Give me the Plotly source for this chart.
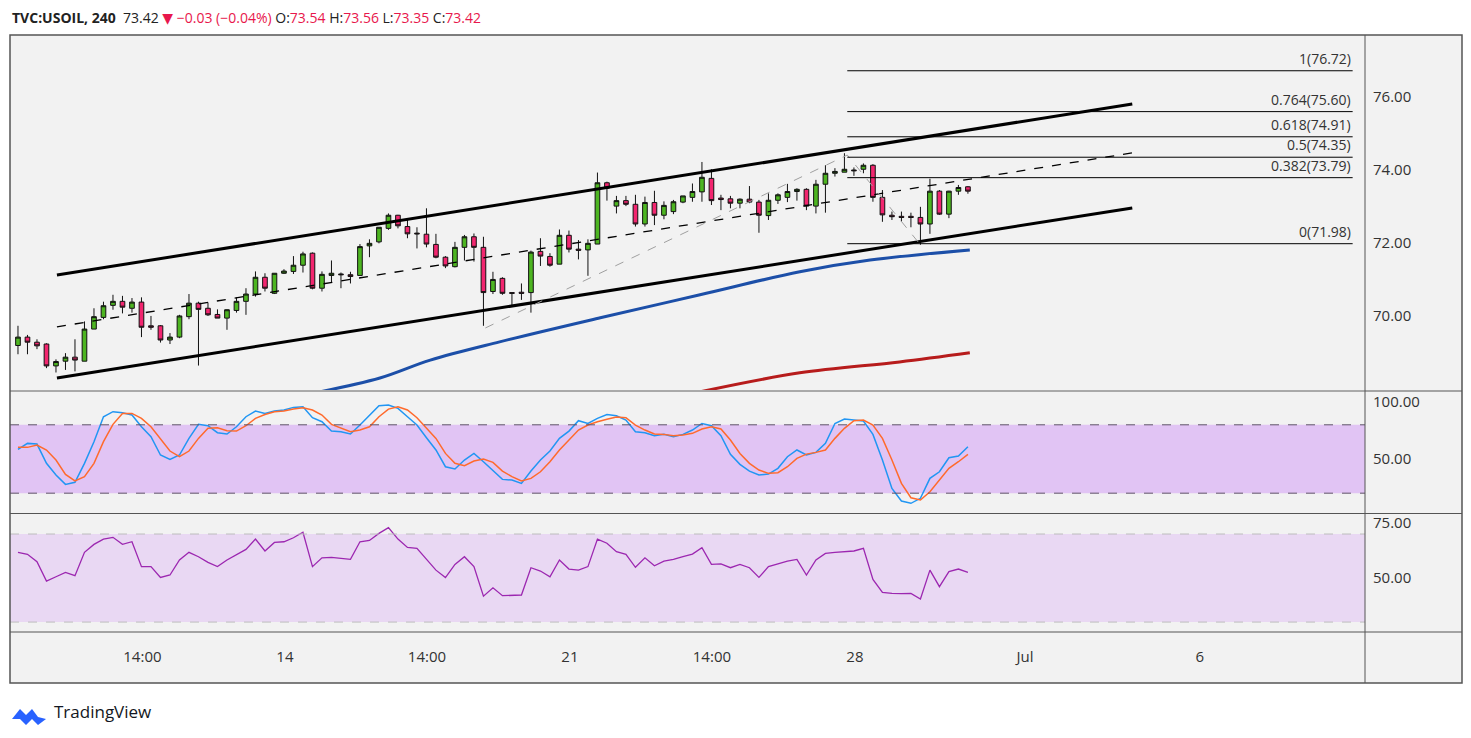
import plotly.graph_objects as go
from plotly.subplots import make_subplots

# 4h bars, indexed by bar number (TradingView style, weekends skipped)
opens = [69.19, 69.42, 69.28, 69.23, 68.63, 68.76, 68.87, 68.76, 69.64, 69.96,
         70.29, 70.40, 70.21, 70.38, 69.73, 69.73, 69.34, 69.42, 69.98, 70.35,
         70.21, 70.04, 69.94, 70.15, 70.40, 70.60, 71.06, 70.62, 71.17, 71.22,
         71.39, 71.72, 70.76, 71.11, 71.15, 71.13, 71.11, 71.92, 72.03, 72.40,
         72.76, 72.45, 72.27, 72.24, 71.96, 71.61, 71.35, 71.88, 72.17, 71.88,
         70.67, 71.03, 70.64, 70.65, 70.64, 71.77, 71.63, 71.42, 72.21, 71.83,
         71.81, 71.97, 73.65, 73.01, 73.16, 73.06, 72.52, 73.11, 72.76, 72.86,
         73.12, 73.25, 73.40, 73.77, 73.23, 73.21, 73.09, 73.20, 73.12, 72.75,
         73.17, 73.25, 73.41, 73.47, 73.01, 73.61, 73.91, 73.94, 74.00, 74.02,
         74.13, 73.25, 72.76, 72.73, 72.73, 72.70, 72.52, 73.42, 72.79, 73.42,
         73.54]
highs = [69.73, 69.48, 69.36, 69.25, 68.81, 68.98, 69.36, 69.85, 70.21, 70.39,
         70.58, 70.55, 70.49, 70.51, 70.00, 69.75, 69.53, 70.03, 70.60, 70.39,
         70.37, 70.18, 70.18, 70.51, 70.76, 71.22, 71.17, 71.17, 71.28, 71.64,
         71.76, 71.74, 71.22, 71.52, 71.19, 71.21, 71.97, 72.10, 72.43, 72.81,
         72.77, 72.65, 72.43, 72.95, 72.25, 71.64, 72.03, 72.22, 72.26, 72.17,
         71.21, 71.06, 70.64, 70.89, 71.79, 72.13, 71.72, 72.37, 72.34, 72.08,
         72.10, 73.93, 73.68, 73.29, 73.29, 73.32, 73.27, 73.43, 73.14, 73.18,
         73.29, 73.63, 74.22, 74.02, 73.32, 73.29, 73.22, 73.56, 73.18, 73.36,
         73.36, 73.62, 73.50, 73.50, 73.73, 74.13, 74.05, 74.46, 74.07, 74.18,
         74.16, 73.45, 72.86, 72.86, 72.83, 72.99, 73.76, 73.45, 73.43, 73.59,
         73.56]
lows = [68.95, 68.95, 69.09, 68.57, 68.45, 68.52, 68.48, 68.76, 69.64, 69.91,
        70.17, 70.07, 70.09, 69.42, 69.62, 69.27, 69.23, 69.39, 69.91, 68.64,
        70.00, 69.94, 69.62, 70.09, 70.03, 70.53, 70.67, 70.60, 71.15, 71.15,
        71.19, 70.73, 70.67, 70.91, 70.76, 70.89, 71.11, 71.61, 71.99, 72.36,
        72.40, 72.13, 71.85, 71.88, 71.58, 71.31, 71.33, 71.52, 71.49, 69.73,
        70.60, 70.58, 70.30, 70.44, 70.09, 71.37, 71.35, 71.42, 71.74, 71.55,
        71.10, 71.97, 73.16, 72.81, 73.01, 72.45, 72.45, 72.49, 72.65, 72.79,
        73.09, 73.13, 73.13, 73.04, 72.90, 72.95, 72.95, 73.09, 72.28, 72.63,
        73.07, 73.12, 73.16, 72.90, 72.81, 72.83, 73.82, 73.94, 73.84, 73.91,
        73.13, 72.58, 72.63, 72.58, 72.43, 71.95, 72.25, 72.77, 72.68, 73.32,
        73.35]
closes = [69.42, 69.28, 69.18, 68.63, 68.75, 68.87, 68.79, 69.64, 69.98, 70.28,
          70.40, 70.24, 70.38, 69.69, 69.69, 69.34, 69.42, 70.00, 70.35, 70.18,
          70.03, 69.94, 70.17, 70.40, 70.60, 71.06, 70.76, 71.17, 71.23, 71.39,
          71.70, 70.76, 71.14, 71.17, 71.13, 71.08, 71.90, 71.99, 72.43, 72.76,
          72.47, 72.25, 72.25, 71.97, 71.61, 71.37, 71.88, 72.17, 71.88, 70.64,
          71.00, 70.62, 70.62, 70.62, 71.75, 71.64, 71.39, 72.21, 71.83, 71.80,
          71.99, 73.65, 73.50, 73.16, 73.06, 72.52, 73.11, 72.76, 73.03, 73.13,
          73.29, 73.41, 73.80, 73.16, 73.19, 73.09, 73.20, 73.12, 72.76, 73.17,
          73.32, 73.41, 73.47, 73.01, 73.61, 73.91, 73.96, 74.02, 73.98, 74.13,
          73.25, 72.77, 72.72, 72.70, 72.70, 72.52, 73.42, 72.79, 73.42, 73.52,
          73.42]
bars = list(range(len(closes)))

stoch_k = [58.4, 63.7, 63.1, 46.2, 35.9, 27.7, 29.5, 46.2, 65.2, 87.1,
           91.5, 90.6, 88.6, 78.3, 69.6, 53.5, 49.7, 53.5, 68.1, 80.4,
           79.2, 73.1, 71.9, 78.3, 87.1, 92.1, 90.0, 92.1, 93.0, 95.3,
           95.9, 86.2, 82.7, 74.5, 73.9, 71.9, 79.8, 88.6, 96.7, 97.3,
           94.4, 87.1, 79.8, 68.7, 57.9, 43.2, 41.2, 49.1, 54.9, 47.6,
           40.0, 32.1, 31.5, 28.6, 39.4, 49.1, 57.0, 68.1, 74.5, 83.6,
           81.2, 85.6, 89.1, 88.0, 84.2, 73.9, 73.1, 70.4, 71.6, 69.6,
           71.6, 75.4, 81.2, 79.2, 70.4, 54.1, 45.3, 39.4, 35.9, 36.8,
           41.8, 52.0, 57.9, 53.5, 55.8, 63.7, 81.2, 85.0, 84.2, 83.3,
           71.6, 49.1, 24.2, 13.1, 11.1, 15.5, 33.0, 38.8, 51.1, 52.6,
           60.8]
stoch_d = [60.2, 60.2, 62.2, 57.9, 49.1, 36.5, 30.7, 34.5, 46.2, 65.2,
           80.4, 90.0, 90.0, 85.6, 78.3, 68.1, 57.0, 52.0, 57.0, 68.1,
           76.9, 77.4, 74.8, 74.5, 79.2, 85.6, 89.1, 91.5, 92.1, 93.8,
           95.0, 93.0, 88.6, 80.4, 76.9, 73.9, 75.4, 78.3, 87.1, 93.8,
           95.9, 93.0, 86.2, 76.9, 68.1, 54.9, 46.2, 44.1, 48.2, 50.0,
           47.0, 39.4, 34.5, 30.7, 33.0, 38.8, 47.6, 57.9, 66.6, 75.4,
           79.8, 82.7, 84.8, 86.8, 86.2, 79.8, 75.4, 71.9, 71.6, 70.4,
           71.0, 72.5, 76.3, 78.3, 76.3, 66.6, 54.9, 46.2, 40.3, 37.4,
           38.0, 43.2, 50.5, 54.3, 55.8, 57.9, 68.1, 76.9, 83.6, 84.2,
           79.8, 68.1, 49.1, 28.6, 16.0, 14.0, 21.3, 31.5, 41.8, 47.6,
           54.1]
rsi = [61.7, 60.8, 57.4, 48.6, 50.6, 52.6, 51.1, 61.7, 65.3, 67.7,
       68.5, 65.3, 66.5, 55.2, 55.2, 50.3, 51.4, 58.2, 61.7, 59.7,
       57.1, 55.2, 58.2, 60.8, 63.0, 67.7, 62.3, 66.2, 66.5, 68.3,
       70.8, 55.2, 59.2, 59.4, 58.9, 58.5, 66.5, 67.1, 70.3, 72.9,
       67.7, 63.9, 63.5, 58.5, 53.6, 50.2, 56.2, 59.7, 55.2, 41.8,
       45.6, 42.0, 42.0, 42.3, 54.7, 53.2, 50.6, 58.2, 54.1, 53.6,
       55.2, 67.7, 65.8, 62.0, 60.8, 54.9, 59.2, 55.6, 57.7, 58.5,
       59.7, 60.9, 63.8, 56.2, 56.4, 54.7, 56.2, 54.7, 50.3, 55.2,
       56.4, 57.7, 58.5, 51.4, 58.2, 61.2, 61.7, 62.0, 62.3, 63.5,
       49.4, 43.5, 43.0, 42.9, 43.0, 40.5, 53.6, 46.1, 52.9, 54.1,
       52.6]

# moving averages (only the visible part)
ma_fast_x = [31.8, 38.1, 43.4, 50.7, 61.3, 71.8, 82.3, 89.7, 100.2]
ma_fast_y = [67.92, 68.30, 68.79, 69.29, 69.95, 70.58, 71.21, 71.53, 71.81]
ma_slow_x = [71.8, 82.3, 92.8, 100.2]
ma_slow_y = [67.92, 68.44, 68.74, 68.99]

# drawings
channel_x = [4.1, 117.3]
channel_upper = [71.12, 75.81]
channel_lower = [68.30, 72.96]
channel_mid = [69.70, 74.47]
swing_x = [49.2, 87.3, 95.0]
swing_y = [69.67, 74.41, 71.95]
fib_x = [87.3, 140.5]
fib_ratios = ["1", "0.764", "0.618", "0.5", "0.382", "0"]
fib_prices = [76.72, 75.60, 74.91, 74.35, 73.79, 71.98]

tick_pos = [13.1, 28.1, 43.05, 58.1, 73.05, 88.1, 106.0, 124.4]
tick_text = ["14:00", "14", "14:00", "21", "14:00", "28", "Jul", "6"]

GREEN = "#4db521"
RED = "#f2266f"
TXT = "#333333"

fig = make_subplots(rows=3, cols=1, shared_xaxes=True)

fig.add_trace(go.Candlestick(
    x=bars, open=opens, high=highs, low=lows, close=closes,
    increasing=dict(fillcolor=GREEN, line=dict(color="#111111", width=1)),
    decreasing=dict(fillcolor=RED, line=dict(color="#111111", width=1)),
    whiskerwidth=0, showlegend=False), row=1, col=1)

fig.add_trace(go.Scatter(x=ma_fast_x, y=ma_fast_y, mode="lines", line=dict(color="#1c4fa8", width=3, shape="spline"), showlegend=False), row=1, col=1)
fig.add_trace(go.Scatter(x=ma_slow_x, y=ma_slow_y, mode="lines", line=dict(color="#b71c1c", width=3, shape="spline"), showlegend=False), row=1, col=1)

for ys in (channel_upper, channel_lower):
    fig.add_trace(go.Scatter(x=channel_x, y=ys, mode="lines", line=dict(color="#000000", width=3), showlegend=False), row=1, col=1)
fig.add_trace(go.Scatter(x=channel_x, y=channel_mid, mode="lines", line=dict(color="#000000", width=1.3, dash="dash"), showlegend=False), row=1, col=1)
fig.add_trace(go.Scatter(x=swing_x, y=swing_y, mode="lines", line=dict(color="#a0a0a0", width=1, dash="dash"), showlegend=False), row=1, col=1)

for r, p in zip(fib_ratios, fib_prices):
    fig.add_trace(go.Scatter(x=fib_x, y=[p, p], mode="lines", line=dict(color="#000000", width=1), showlegend=False), row=1, col=1)
    fig.add_annotation(x=fib_x[1], y=p, xref="x", yref="y", text=f"{r}({p:.2f})", showarrow=False,
                       xanchor="right", yanchor="bottom", yshift=1, font=dict(size=14, color=TXT))

# stochastic panel
fig.add_trace(go.Scatter(x=bars, y=stoch_k, mode="lines", line=dict(color="#2196f3", width=1.5), showlegend=False), row=2, col=1)
fig.add_trace(go.Scatter(x=bars, y=stoch_d, mode="lines", line=dict(color="#ff6a2c", width=1.5), showlegend=False), row=2, col=1)
fig.add_hrect(y0=20, y1=80, fillcolor="#e1c4f4", opacity=1, line_width=0, layer="below", row=2, col=1)
for lv in (20, 80):
    fig.add_hline(y=lv, line=dict(color="#5f5468", width=1, dash="dash"), row=2, col=1)

# RSI panel
fig.add_trace(go.Scatter(x=bars, y=rsi, mode="lines", line=dict(color="#9c27b0", width=1.3), showlegend=False), row=3, col=1)
fig.add_hrect(y0=30, y1=70, fillcolor="#e9d8f3", opacity=1, line_width=0, layer="below", row=3, col=1)
for lv in (30, 70):
    fig.add_hline(y=lv, line=dict(color="#bdbdbd", width=1, dash="dash"), row=3, col=1)

OFF = 8  # page body margin
W, H = 1455, 722
L, T = 10 - OFF, 35 - OFF
R = W - (1365 - OFF)
B = H - (632 - OFF)
ph = H - T - B
pw = W - L - R
def py(p):  # reference pixel row -> paper y
    return (H - B - (p - OFF)) / ph
def px_(x):
    return (x - OFF - L) / pw

fig.update_layout(
    width=W, height=H, margin=dict(l=L, r=R, t=T, b=B),
    paper_bgcolor="white", plot_bgcolor="#f2f2f2",
    font=dict(family="Open Sans, DejaVu Sans, sans-serif", color=TXT, size=15),
    yaxis=dict(domain=[py(390), 1.0]),
    yaxis2=dict(domain=[py(513), py(392)]),
    yaxis3=dict(domain=[0.0, py(514)]),
)
fig.update_xaxes(range=[-0.84, 141.8], showgrid=False, zeroline=False, rangeslider_visible=False,
                 tickvals=tick_pos, ticktext=tick_text, ticks="", showline=False)
fig.update_xaxes(tickfont=dict(size=15, color=TXT), ticklabelstandoff=14, row=3, col=1)
common_y = dict(side="right", showgrid=False, zeroline=False, ticks="", ticklabelstandoff=7,
                tickfont=dict(size=15, color=TXT), tickformat=".2f")
fig.update_yaxes(range=[67.97, 77.70], tickvals=[70, 72, 74, 76], **common_y, row=1, col=1)
fig.update_yaxes(range=[2.6, 108.8], tickvals=[50, 100], **common_y, row=2, col=1)
fig.update_yaxes(range=[25.5, 79.1], tickvals=[50, 75], **common_y, row=3, col=1)

# frame and panel separators
x_right = px_(1462)
y_bottom = py(683)
fig.add_shape(type="rect", xref="paper", yref="paper", x0=0, x1=x_right, y0=y_bottom, y1=1,
              line=dict(color="#555555", width=1.5), fillcolor="rgba(0,0,0,0)")
fig.add_shape(type="rect", xref="paper", yref="paper", x0=1, x1=x_right, y0=y_bottom, y1=1,
              line=dict(width=0), fillcolor="#f2f2f2", layer="below")
fig.add_shape(type="rect", xref="paper", yref="paper", x0=0, x1=1, y0=y_bottom, y1=0,
              line=dict(width=0), fillcolor="#f2f2f2", layer="below")
for yy in (py(391), py(513.5), 0):
    fig.add_shape(type="line", xref="paper", yref="paper", x0=0, x1=x_right, y0=yy, y1=yy,
                  line=dict(color="#555555", width=1))
fig.add_shape(type="line", xref="paper", yref="paper", x0=1, x1=1, y0=y_bottom, y1=1,
              line=dict(color="#555555", width=1))

# header
fig.add_annotation(xref="paper", yref="paper", x=px_(10), y=py(17), xanchor="left", yanchor="middle", showarrow=False,
                   text=("<b>TVC:USOIL, 240</b>  73.42 <span style='color:#e8174c'>▼ −0.03 (−0.04%)</span> "
                         "O:<span style='color:#e8174c'>73.54</span> H:<span style='color:#e8174c'>73.56</span> "
                         "L:<span style='color:#e8174c'>73.35</span> C:<span style='color:#e8174c'>73.42</span>"),
                   font=dict(size=14, color="#222222"))
# footer logo
fig.add_shape(type="path", xref="paper", yref="paper", xsizemode="pixel", ysizemode="pixel",
              xanchor=px_(12), yanchor=py(719),
              path="M 0 0 L 8 10 L 14 4 L 20 10 L 26 2 L 34 0 L 26 -6 L 20 0 L 14 -6 L 8 0 Z",
              fillcolor="#2962ff", line=dict(width=0))
fig.add_annotation(xref="paper", yref="paper", x=px_(52), y=py(711), xanchor="left", yanchor="middle", showarrow=False,
                   text="TradingView", font=dict(size=17, color="#131722"))

fig.write_html("out.html")
